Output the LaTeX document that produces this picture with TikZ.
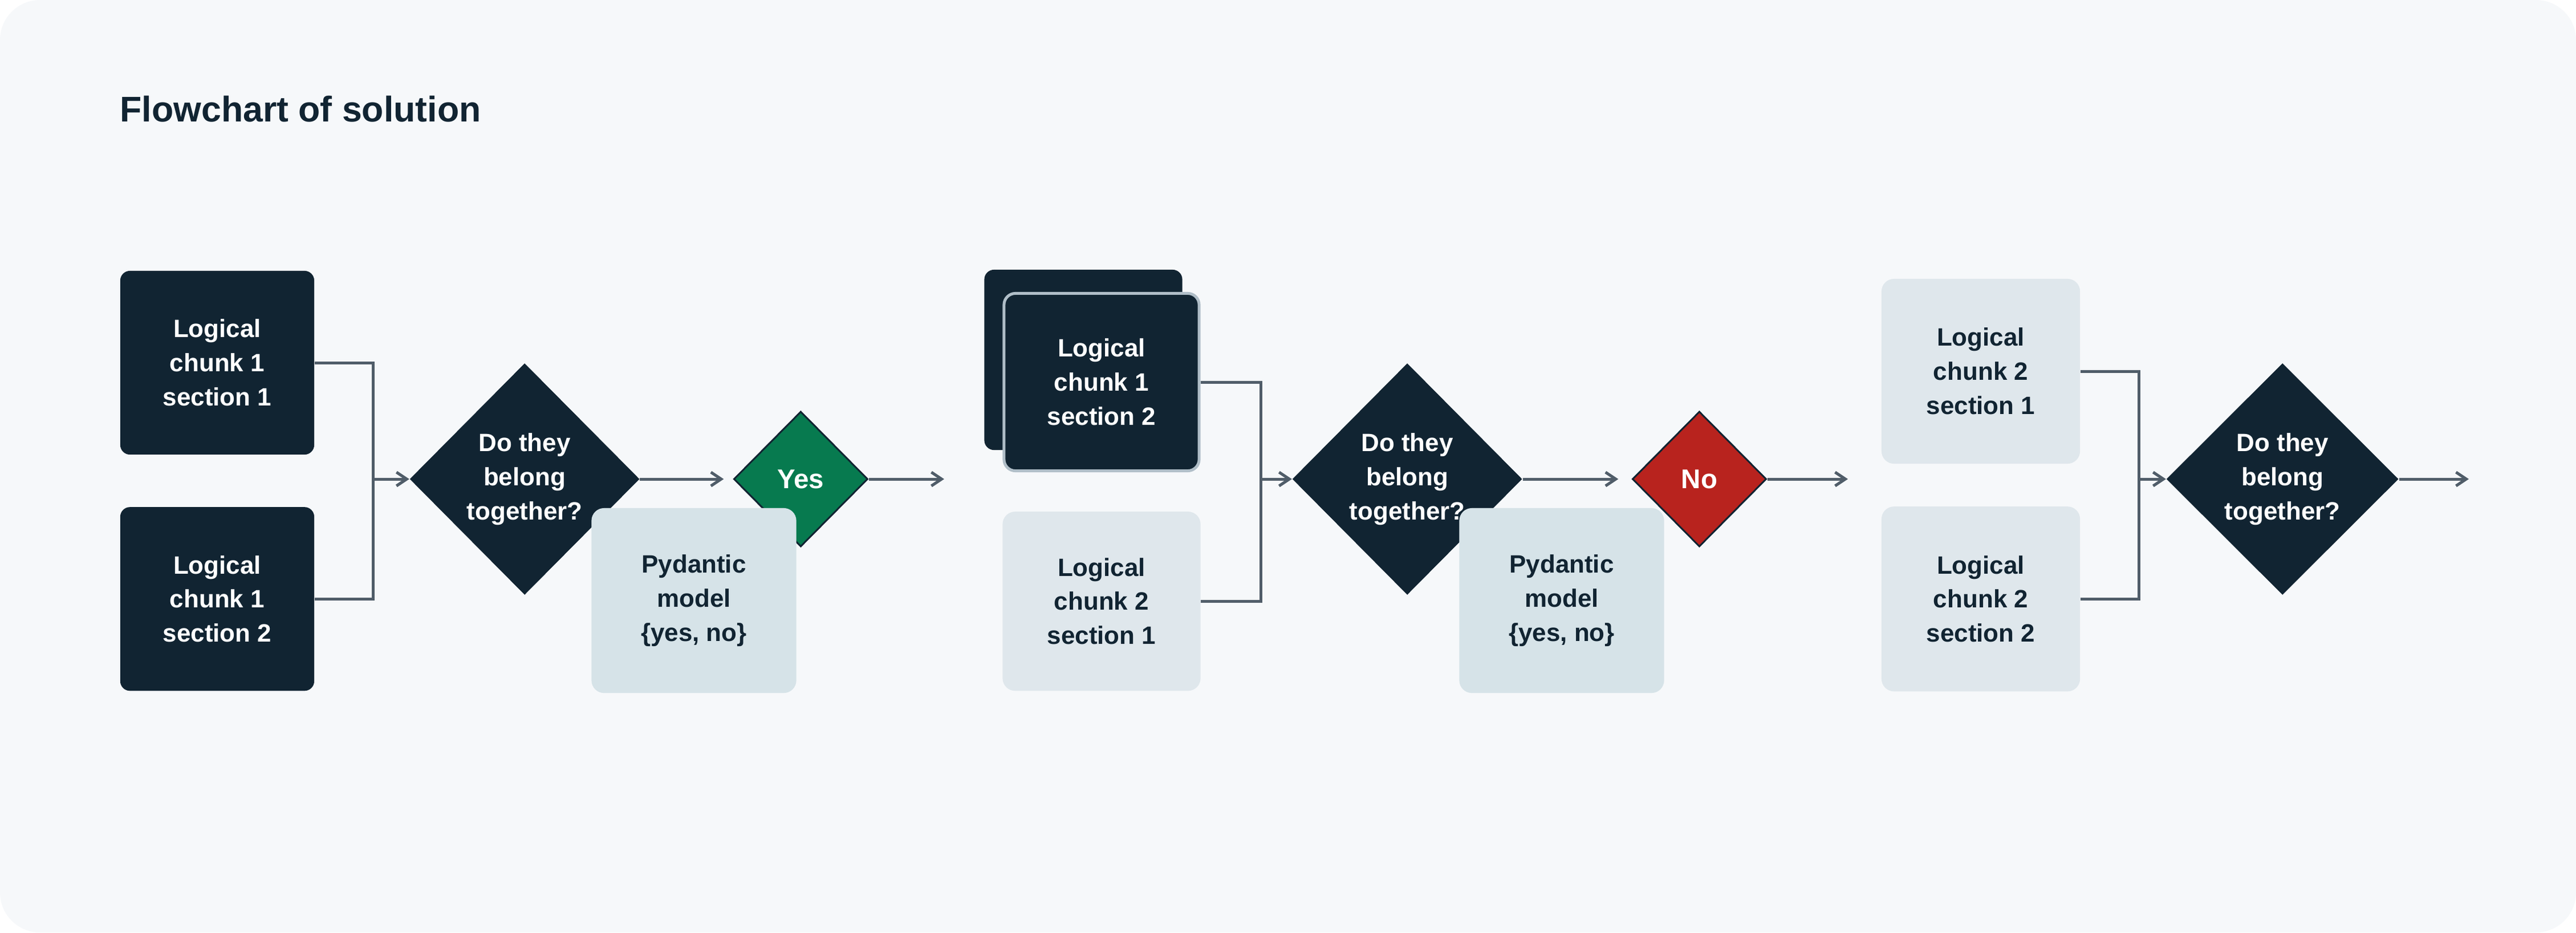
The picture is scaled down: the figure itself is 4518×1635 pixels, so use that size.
\documentclass[tikz,border=0pt]{standalone}
\usepackage{fontspec}
\setmainfont{Liberation Sans}
\usetikzlibrary{positioning, shapes.geometric, arrows.meta}

\definecolor{navy}{HTML}{112432}
\definecolor{paper}{HTML}{F6F8FA}
\definecolor{mist}{HTML}{DFE7EC}
\definecolor{modelfill}{HTML}{D6E3E8}
\definecolor{edgegray}{HTML}{B0BEC8}
\definecolor{wire}{HTML}{505D69}
\definecolor{okgreen}{HTML}{077A4F}
\definecolor{nored}{HTML}{B8231E}

\tikzset{
  chunkdark/.style={rectangle, rounded corners=0.17cm, fill=navy, text=white,
    minimum width=3.4cm, minimum height=3.22cm, align=center,
    font=\fontsize{12.5pt}{17pt}\selectfont\bfseries},
  chunklight/.style={chunkdark, rounded corners=0.22cm, fill=mist, text=navy,
    minimum width=3.47cm},
  model/.style={chunklight, fill=modelfill, minimum width=3.59cm, minimum height=3.24cm},
  decide/.style={diamond, fill=navy, text=white, inner sep=0pt, aspect=1,
    minimum width=4.03cm, minimum height=4.06cm, align=center,
    font=\fontsize{12.5pt}{17pt}\selectfont\bfseries},
  answer/.style={diamond, draw=navy, line width=0.03cm, text=white, inner sep=0pt,
    minimum width=2.35cm, minimum height=2.37cm,
    font=\fontsize{13.5pt}{17pt}\selectfont\bfseries},
  link/.style={draw=wire, line width=0.05cm},
  flow/.style={link, -{Straight Barb[length=0.18cm, width=0.24cm, line width=0.05cm]}}
}

\begin{document}
\begin{tikzpicture}[x=0.01cm, y=-0.01cm]
  \useasboundingbox (0,0) rectangle (4518,1635);
  \fill[paper, rounded corners=0.7cm] (0,0) rectangle (4518,1635);

  \node[anchor=base west, inner sep=0pt, text=navy, font=\fontsize{17.8pt}{20pt}\selectfont\bfseries]
    (title) at (210,213) {Flowchart of solution};

  % first pair
  \node[chunkdark] (c11) at (381,636) {Logical\\chunk 1\\section 1};
  \node[chunkdark, below of=c11, yshift=-3.14cm] (c12) {Logical\\chunk 1\\section 2};
  \coordinate (j1) at (654,840);
  \node[decide, right of=j1, xshift=1.66cm] (d1) {Do they\\belong\\together?};
  \node[answer, fill=okgreen, right of=d1, xshift=3.84cm] (yes) {Yes};
  \node[model] (p1) at (1217,1053) {Pydantic\\model\\\{yes, no\}};
  \coordinate (e1) at (1656,840);

  \draw[link] (c11.east) -| (j1);
  \draw[link] (c12.east) -| (j1);
  \draw[flow] (j1) -- (d1.west);
  \draw[flow, shorten >=0.16cm] (d1.east) -- (yes.west);
  \draw[flow] (yes.east) -- (e1);

  % second pair
  \node[chunkdark, minimum width=3.47cm, minimum height=3.16cm] (c21back) at (1900,631) {};
  \node[chunkdark, draw=edgegray, line width=0.05cm, rounded corners=0.2cm,
    minimum width=3.42cm, minimum height=3.11cm] (c21) at (1932,670) {Logical\\chunk 1\\section 2};
  \node[chunklight, minimum height=3.14cm, below of=c21, yshift=-2.84cm] (c22) {Logical\\chunk 2\\section 1};
  \coordinate (j2) at (2211,840);
  \node[decide, right of=j2, xshift=1.57cm] (d2) {Do they\\belong\\together?};
  \node[answer, fill=nored, right of=d2, xshift=4.12cm] (no) {No};
  \node[model] (p2) at (2739,1053) {Pydantic\\model\\\{yes, no\}};
  \coordinate (e2) at (3241,840);

  \draw[link] (c21.east) -| (j2);
  \draw[link] (c22.east) -| (j2);
  \draw[flow] (j2) -- (d2.west);
  \draw[flow, shorten >=0.23cm] (d2.east) -- (no.west);
  \draw[flow] (no.east) -- (e2);

  % third pair
  \node[chunklight, minimum width=3.48cm, minimum height=3.24cm] (c31) at (3474,651) {Logical\\chunk 2\\section 1};
  \node[chunklight, minimum width=3.48cm, minimum height=3.24cm, below of=c31, yshift=-2.99cm] (c32) {Logical\\chunk 2\\section 2};
  \coordinate (j3) at (3751,840);
  \node[decide, minimum width=4.07cm, right of=j3, xshift=1.52cm] (d3) {Do they\\belong\\together?};
  \coordinate (e3) at (4330,840);

  \draw[link] (c31.east) -| (j3);
  \draw[link] (c32.east) -| (j3);
  \draw[flow] (j3) -- (d3.west);
  \draw[flow] (d3.east) -- (e3);
\end{tikzpicture}
\end{document}
